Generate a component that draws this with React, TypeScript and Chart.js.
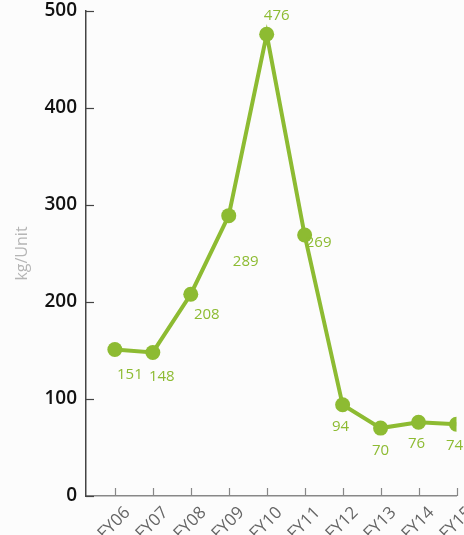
import React, { useEffect, useRef } from "react";
import { Chart, registerables } from "chart.js";

Chart.register(...registerables);

const categories = ["FY06", "FY07", "FY08", "FY09", "FY10", "FY11", "FY12", "FY13", "FY14", "FY15"];
const values = [151, 148, 208, 289, 476, 269, 94, 70, 76, 74];
const yTicks = [0, 100, 200, 300, 400, 500];
const yTitle = "kg/Unit";

// label offsets (px) relative to each point
const labelOffsets: [number, number][] = [
  [15, 25], [9, 24], [16, 20], [17, 46], [10, -19], [14, 8], [-2, 22], [0, 23], [-2, 21], [-2, 22],
];

const GREEN = "#8dbb32";

const App: React.FC = () => {
  const ref = useRef<HTMLCanvasElement | null>(null);

  useEffect(() => {
    document.body.style.margin = "0";
    const canvas = ref.current;
    if (!canvas) return;

    const innerTicks = {
      id: "innerTicks",
      afterDatasetsDraw(chart: any) {
        const ctx = chart.ctx;
        const xs = chart.scales.x;
        const ys = chart.scales.y;
        ctx.save();
        ctx.lineWidth = 1.2;
        ctx.strokeStyle = "#444";
        yTicks.forEach((v) => {
          const py = Math.round(ys.getPixelForValue(v)) + 0.5;
          ctx.beginPath();
          ctx.moveTo(xs.left, py);
          ctx.lineTo(xs.left + 8, py);
          ctx.stroke();
        });
        ctx.strokeStyle = "#888";
        ctx.fillStyle = "#666";
        ctx.font = "17px 'Open Sans'";
        ctx.textAlign = "right";
        ctx.textBaseline = "middle";
        categories.forEach((c, i) => {
          const px = Math.round(xs.getPixelForValue(i)) + 0.5;
          ctx.beginPath();
          ctx.moveTo(px, ys.bottom);
          ctx.lineTo(px, ys.bottom - 8);
          ctx.stroke();
          ctx.save();
          ctx.translate(px + 12, ys.bottom + 14);
          ctx.rotate(-Math.PI / 4);
          ctx.fillText(c, 0, 0);
          ctx.restore();
        });
        // data labels
        const meta = chart.getDatasetMeta(0);
        ctx.fillStyle = GREEN;
        ctx.font = "500 15px 'Open Sans'";
        ctx.textAlign = "center";
        ctx.textBaseline = "middle";
        meta.data.forEach((pt: any, i: number) => {
          const [dx, dy] = labelOffsets[i];
          ctx.fillText(String(values[i]), pt.x + dx, pt.y + dy);
        });
        ctx.restore();
      },
    };

    const chart = new Chart(canvas, {
      type: "scatter",
      data: {
        datasets: [
          {
            data: values.map((v, i) => ({ x: i, y: v })),
            showLine: true,
            borderColor: GREEN,
            backgroundColor: GREEN,
            borderWidth: 4,
            pointRadius: 7.5,
            pointHoverRadius: 7.5,
            pointBorderWidth: 0,
          },
        ],
      },
      options: {
        animation: false,
        responsive: false,
        events: [],
        layout: { padding: { top: 0, right: 6, left: 0, bottom: 0 } },
        plugins: { legend: { display: false }, tooltip: { enabled: false } },
        scales: {
          x: {
            type: "linear",
            min: -0.76,
            max: 9,
            afterFit: (s: any) => {
              s.height = 39;
              s.paddingRight = 0;
              s.paddingLeft = 0;
            },
            afterBuildTicks: (s: any) => {
              s.ticks = categories.map((_, i) => ({ value: i }));
            },
            ticks: { display: false },
            grid: { display: true, drawOnChartArea: false, drawTicks: false },
            border: { display: true, color: "#888", width: 1.5 },
          },
          y: {
            min: 0,
            max: 500,
            afterFit: (s: any) => {
              s.width = 86;
              s.paddingTop = 11;
              s.paddingBottom = 0;
            },
            afterBuildTicks: (s: any) => {
              s.ticks = yTicks.map((v) => ({ value: v }));
            },
            ticks: {
              padding: 9,
              color: "#111",
              font: { family: "'Open Sans'", size: 19, weight: 600 },
            },
            grid: { display: true, drawOnChartArea: false, drawTicks: false },
            border: { display: true, color: "#444", width: 1.5 },
            title: {
              display: true,
              text: yTitle,
              color: "#b5b5b5",
              font: { family: "'Open Sans'", size: 16 },
              padding: { top: 13, bottom: 0 },
            },
          },
        },
      },
      plugins: [innerTicks],
    });

    return () => chart.destroy();
  }, []);

  return (
    <div style={{ width: 464, height: 535, background: "#fcfcfc" }}>
      <canvas ref={ref} width={464} height={535} style={{ display: "block" }} />
    </div>
  );
};

export default App;
